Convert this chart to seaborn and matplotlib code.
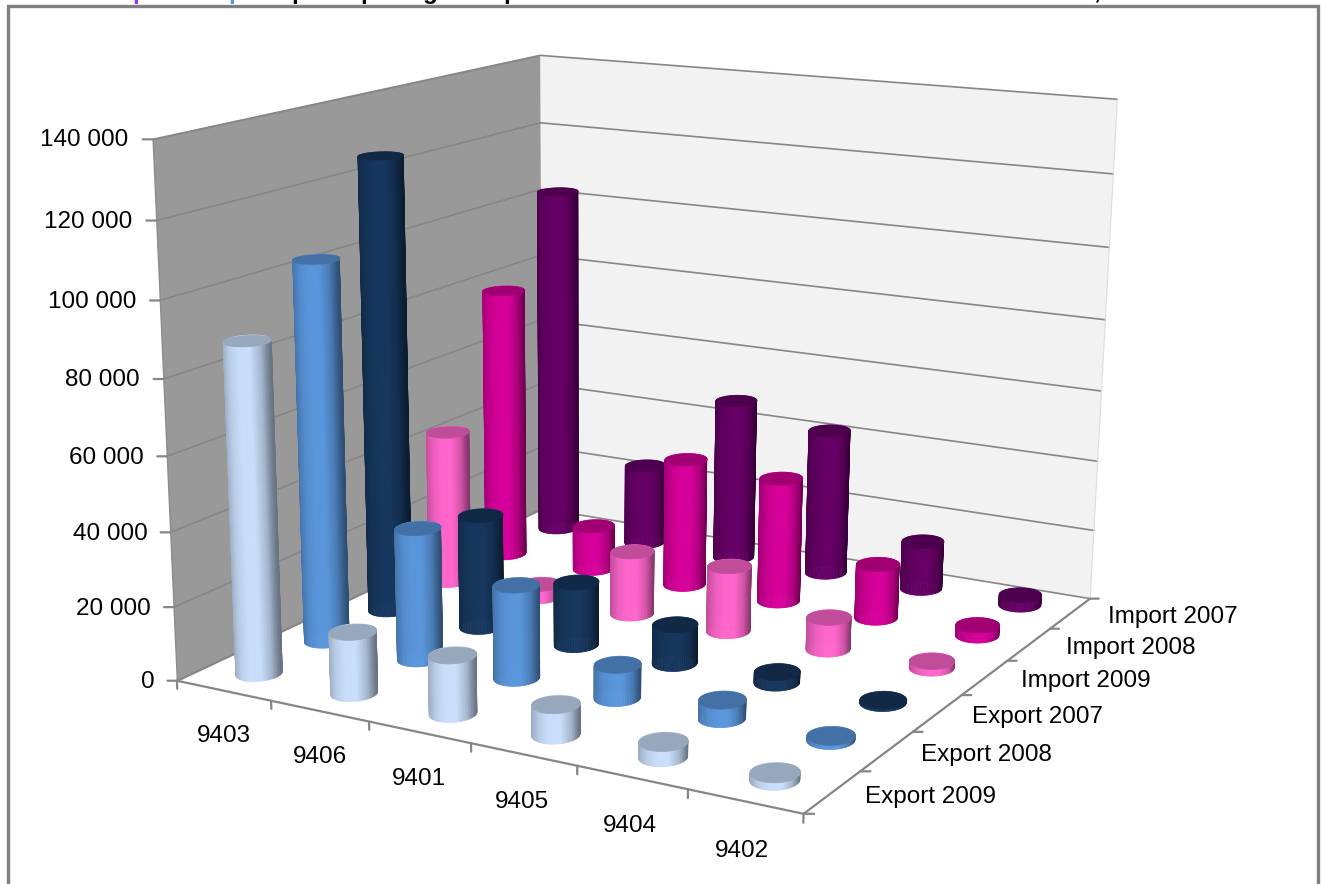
import numpy as np
import matplotlib
matplotlib.use("Agg")
import matplotlib.pyplot as plt
from matplotlib.patches import Rectangle
from mpl_toolkits.mplot3d.art3d import Poly3DCollection
import seaborn as sns

# ============================================================
# 1. Data
# ============================================================
codes = ['9403', '9406', '9401', '9405', '9404', '9402']
series_names = ['Export 2009', 'Export 2008', 'Export 2007',
                'Import 2009', 'Import 2008', 'Import 2007']

export_2009 = [88500, 16500, 15500, 8000, 4000, 2000]
export_2008 = [104000, 36000, 25300, 9000, 5000, 1200]
export_2007 = [126500, 31700, 17600, 10800, 3000, 800]
import_2009 = [44000, 3800, 18000, 18500, 9000, 2000]
import_2008 = [79000, 13000, 37000, 35700, 15500, 3000]
import_2007 = [103000, 23800, 47400, 42400, 14000, 3000]
series_values = [export_2009, export_2008, export_2007,
                 import_2009, import_2008, import_2007]

series_colors = ['#C9DEFB', '#5A96DC', '#17375E', '#FF66CC', '#D6009A', '#660066']
z_ticks = [0, 20000, 40000, 60000, 80000, 100000, 120000, 140000]
z_labels = ['0', '20 000', '40 000', '60 000', '80 000', '100 000', '120 000', '140 000']

WIDTH, HEIGHT = 1321, 884
NX, NY, ZMAX = len(codes), len(series_names), z_ticks[-1]

sns.set_theme(style='white')
plt.rcParams['font.family'] = ['Liberation Sans', 'DejaVu Sans']
palette = sns.color_palette(series_colors)

# ============================================================
# 2. Camera: fit a projection from the box corners in the picture
# ============================================================
box_corners = np.array([[0, 0, 0], [1, 0, 0], [1, 1, 0], [0, 1, 0],
                        [0, 0, 1], [0, 1, 1], [1, 1, 1]], dtype=float)
corner_pixels = np.array([[178, 680], [803, 815], [1091, 597], [541, 510],
                          [152, 139], [541, 55], [1117, 100]], dtype=float)

rows = []
for (cx, cy, cz), (px, py) in zip(box_corners, corner_pixels):
    rows.append([cx, cy, cz, 1, 0, 0, 0, 0, -px * cx, -px * cy, -px * cz, -px])
    rows.append([0, 0, 0, 0, cx, cy, cz, 1, -py * cx, -py * cy, -py * cz, -py])
cam = np.linalg.svd(np.array(rows, dtype=float))[2][-1].reshape(3, 4)
cam = cam / cam[2, 3]
cam = cam @ np.diag([1 / NX, 1 / NY, 1 / ZMAX, 1])

# third row gives a depth that grows away from the viewer, for polygon sorting
view_matrix = np.vstack([cam[0], cam[1], [0, 0, 0, -1], cam[2]])

fig = plt.figure(figsize=(WIDTH / 100, HEIGHT / 100), dpi=100, facecolor='white')
ax = fig.add_axes([0, 0, 1, 1], projection='3d', computed_zorder=False)
ax.set_axis_off()
ax.set_proj_type('ortho')  # stops Line3D clipping to the default -1..1 view
ax.get_proj = lambda: view_matrix
ax.apply_aspect = lambda position=None: None


def put_label(x, y, z, text, **kwargs):
    u, v, w = cam @ [x, y, z, 1]
    fig.text(u / w / WIDTH, 1 - v / w / HEIGHT, text, va='center', color='black',
             fontsize=17.5, **kwargs)


# ============================================================
# 3. Walls, gridlines, axis lines and ticks
# ============================================================
GREY = '#868686'
left_wall = [[(0, 0, 0), (0, NY, 0), (0, NY, ZMAX), (0, 0, ZMAX)]]
back_wall = [[(0, NY, 0), (NX, NY, 0), (NX, NY, ZMAX), (0, NY, ZMAX)]]
ax.add_collection3d(Poly3DCollection(left_wall, facecolors='#999999', edgecolors='#8c8c8c',
                                     linewidths=1, zorder=1), autolim=False)
ax.add_collection3d(Poly3DCollection(back_wall, facecolors='#F2F2F2', edgecolors='none',
                                     zorder=1), autolim=False)

for z in z_ticks:
    ax.plot([0, 0, NX], [0, NY, NY], [z, z, z], color=GREY, lw=1.2, zorder=2)
    ax.plot([0, -0.07], [0, -0.04], [z, z], color=GREY, lw=1.6, zorder=2)
ax.plot([0, NX, NX], [0, 0, NY], [0, 0, 0], color=GREY, lw=1.6, zorder=2)
ax.plot([NX, NX], [NY, NY], [0, ZMAX], color='#dddddd', lw=0.8, zorder=2)
for i in range(NX + 1):
    ax.plot([i, i], [0, 0], [0, -2200], color=GREY, lw=1.6, zorder=2)
for j in range(NY + 1):
    ax.plot([NX, NX + 0.07], [j, j + 0.04], [0, 0], color=GREY, lw=1.6, zorder=2)

# ============================================================
# 4. Cylinders, drawn from the back row to the front
# ============================================================
RX, RY = 0.19, 0.215
angles = np.linspace(0, 2 * np.pi, 73)
mid_angles = (angles[:-1] + angles[1:]) / 2
# position across the silhouette: -1 left edge, +1 right edge
across = np.cos(mid_angles - np.arctan2(RY * 47.5, RX * 104))
shade = np.interp(across, [-1, -0.55, -0.1, 0.3, 0.7, 1], [0.76, 0.93, 1, 1, 0.82, 0.52])

for j in range(NY - 1, -1, -1):
    base = np.array(palette[j])
    for i in range(NX):
        value = series_values[j][i]
        xs = i + 0.5 + RX * np.cos(angles)
        ys = j + 0.5 + RY * np.sin(angles)
        order = 10 + (NY - 1 - j) * NX + i
        sides = [[(xs[k], ys[k], 0), (xs[k + 1], ys[k + 1], 0),
                  (xs[k + 1], ys[k + 1], value), (xs[k], ys[k], value)]
                 for k in range(len(mid_angles))]
        colors = np.outer(shade, base)
        side_mesh = Poly3DCollection(sides, facecolors=colors, edgecolors=colors,
                                     linewidths=0.5, zorder=order)
        side_mesh.set_snap(False)
        ax.add_collection3d(side_mesh, autolim=False)
        cap = [list(zip(xs, ys, np.full_like(xs, value)))]
        top = Poly3DCollection(cap, facecolors=[base * 0.75], edgecolors=[base * 0.75],
                               linewidths=0.5, zorder=order + 0.5)
        top.set_snap(False)
        ax.add_collection3d(top, autolim=False)

# ============================================================
# 5. Axis labels
# ============================================================
for z, label in zip(z_ticks, z_labels):
    put_label(-0.14, -0.13, z, label, ha='right')
for i, code in enumerate(codes):
    put_label(1.17 + 0.95 * i, -0.86, 0, code, ha='center')
for j, name in enumerate(series_names):
    put_label(NX + 0.70 + 0.03 * j, 0.794 + 1.015 * j, 0, name, ha='center')

# ============================================================
# 6. Frame and the cut-off title along the top edge
# ============================================================
fig.add_artist(Rectangle((8 / WIDTH, -0.05), 1310 / WIDTH, 1.05 - 6 / HEIGHT, transform=fig.transFigure,
                         fill=False, edgecolor='#808080', linewidth=2.4))
title_bits = [(132, 'p', '#9933FF'), (228, 'p', '#5A96DC'), (291, 'p', 'black'), (360, 'p', 'black'),
              (423, 'g', 'black'), (503, 'p', 'black'), (1093, ',', 'black')]
for px, char, color in title_bits:
    fig.text(px / WIDTH, 1 + 1 / HEIGHT, char, ha='left', va='baseline', fontsize=17.5,
             fontweight='bold', color=color)

ax.viewLim.intervalx = (0, WIDTH)
ax.viewLim.intervaly = (HEIGHT, 0)

fig.savefig('out.png', dpi=100)
